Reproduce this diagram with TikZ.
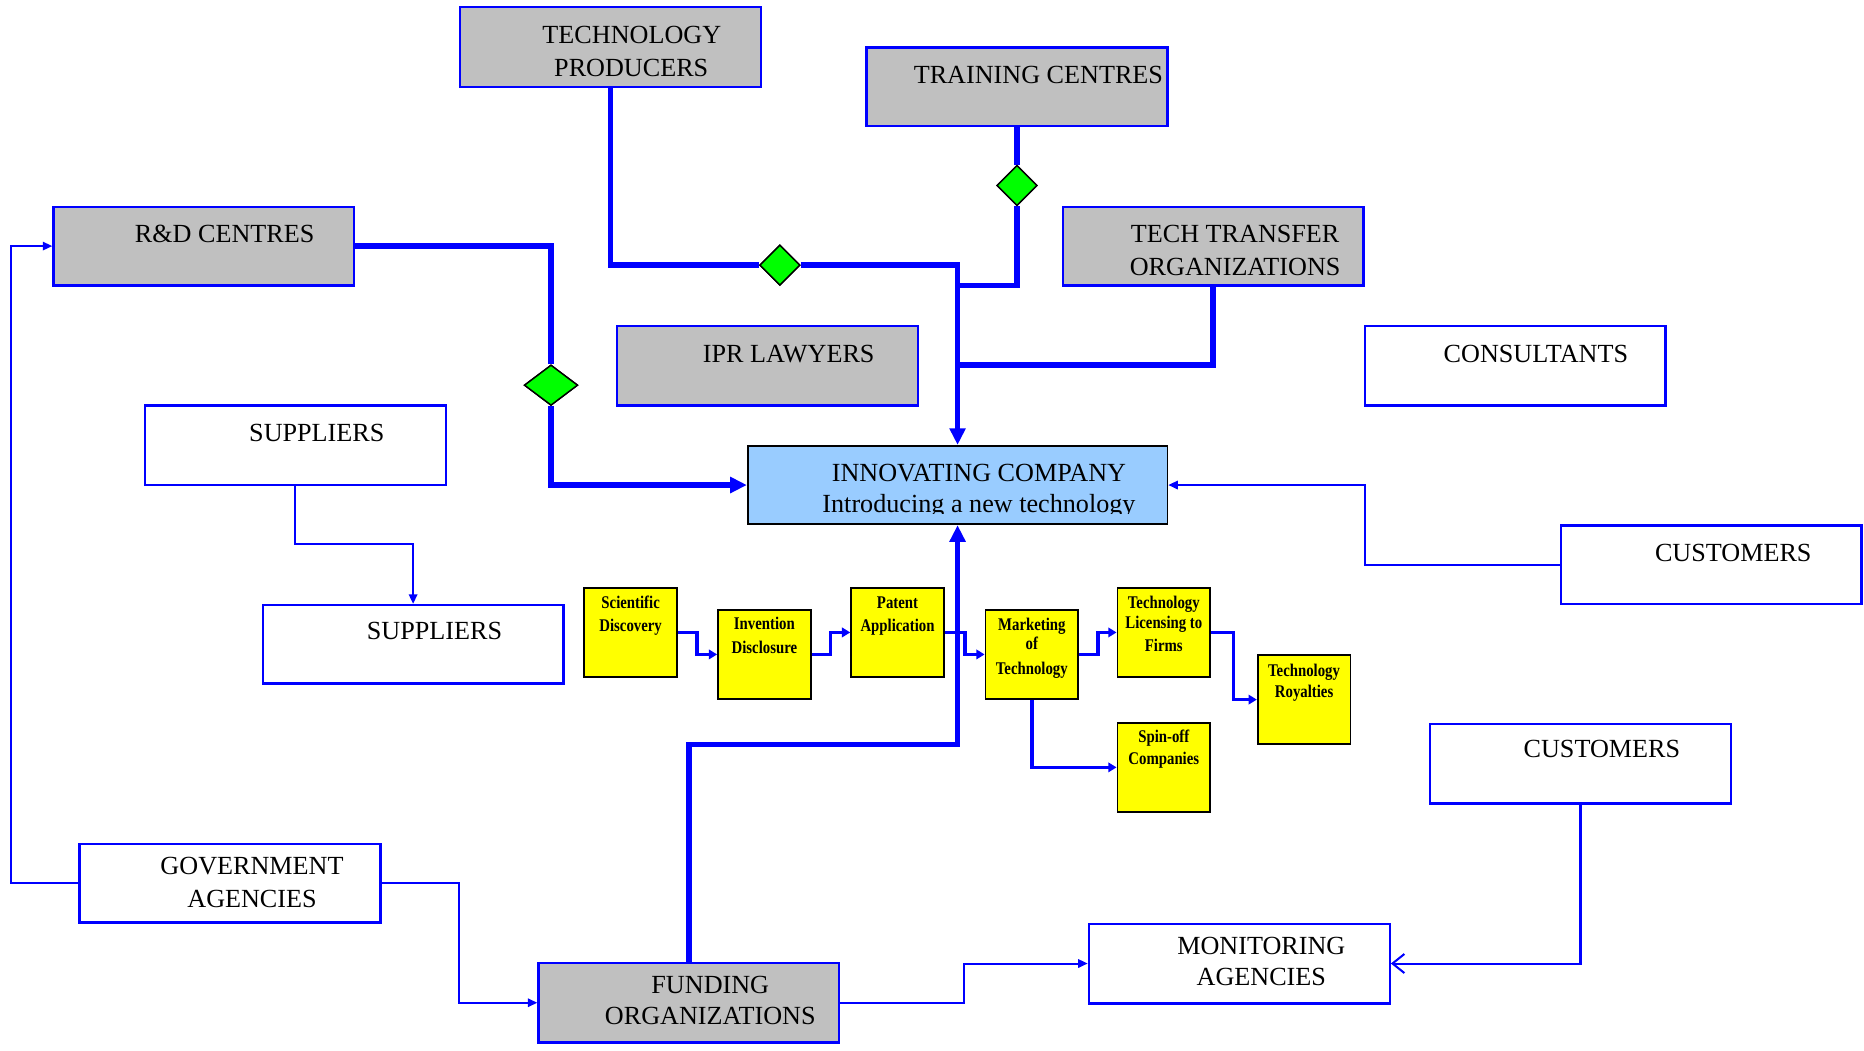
\documentclass[tikz,border=0pt]{standalone}
\usepackage{fontspec}
\setmainfont{Liberation Serif}
\newfontfamily\ylfont{Liberation Serif}[FakeStretch=0.83]
\usetikzlibrary{arrows.meta,shapes.geometric}

\definecolor{myblue}{RGB}{0,0,255}
\definecolor{mygray}{RGB}{192,192,192}
\definecolor{myltblue}{RGB}{153,204,255}
\definecolor{myyellow}{RGB}{255,255,0}
\definecolor{mygreen}{RGB}{0,255,0}

\tikzset{
  basebox/.style={draw=myblue, line width=2pt, inner sep=0pt,
    minimum width=253pt, minimum height=67pt},
  graybox/.style={basebox, fill=mygray},
  whitebox/.style={basebox, fill=white},
  lbl/.style={font=\fontsize{22}{27}\selectfont, anchor=base, inner sep=0pt},
  ybox/.style={draw=black, line width=1.5pt, fill=myyellow, inner sep=0pt,
    minimum width=78pt, minimum height=75pt},
  ylbl/.style={font=\ylfont\bfseries\fontsize{15}{20}\selectfont, anchor=base, inner sep=0pt},
  gem/.style={diamond, draw=black, line width=1.2pt, fill=mygreen, inner sep=0pt,
    minimum width=34pt, minimum height=34pt},
  heavy/.style={draw=myblue, line width=4.5pt},
  heavytip/.style={heavy, -{Triangle[length=14pt,width=13pt]}},
  light/.style={draw=myblue, line width=1.7pt},
  lighttip/.style={light, -{Triangle[length=8pt,width=7pt]}},
  barbtip/.style={light, -{Straight Barb[length=10pt,width=16pt]}},
  chain/.style={draw=myblue, line width=3pt, -{Triangle[length=7pt,width=8pt]}},
}

\begin{document}
\begin{tikzpicture}[x=1pt,y=-1pt]
\useasboundingbox (0,0) rectangle (1568,884);

% ---- organisation boxes ----
\node[graybox]  (tp)  at (513.5,39.5) {};
\node[graybox, minimum height=66pt] (tc) at (855.5,73) {};
\node[graybox, minimum height=66pt] (rd) at (171.5,207) {};
\node[graybox, minimum height=66pt] (tt) at (1020.5,207) {};
\node[graybox]  (ipr) at (645.5,307.5) {};
\node[whitebox] (con) at (1274.5,307.5) {};
\node[whitebox] (s1)  at (248.5,374.5) {};
\node[draw=black, line width=1.5pt, fill=myltblue, inner sep=0pt,
      minimum width=353pt, minimum height=66pt] (ic) at (805.5,408) {};
\node[whitebox, minimum height=66pt] (c1) at (1439.5,475) {};
\node[whitebox, minimum height=66pt] (s2) at (347.5,542) {};
\node[whitebox] (c2)  at (1329.5,642.5) {};
\node[whitebox, minimum height=66pt] (ga) at (193.5,743) {};
\node[whitebox] (ma)  at (1042.5,810.5) {};
\node[graybox]  (fo)  at (579.5,843.5) {};

% ---- process chain ----
\node[ybox] (sd)   at (530.5,532) {};
\node[ybox] (id)   at (643,550.5) {};
\node[ybox] (pa)   at (755,532) {};
\node[ybox] (mk)   at (868,550.5) {};
\node[ybox] (lic)  at (979,532) {};
\node[ybox] (roy)  at (1097,588.5) {};
\node[ybox] (spin) at (979,645.5) {};

% ---- junction markers ----
\node[gem] (d1) at (656,223) {};
\node[gem] (d2) at (855.5,156) {};
\node[gem, minimum width=45pt] (d3) at (463.5,324) {};

% ---- bend points ----
\coordinate (jA) at (805.5,240);
\coordinate (jB) at (805.5,307);
\coordinate (jC) at (805.5,626);
\coordinate (jD) at (347.5,458);
\coordinate (jE) at (1148,475);
\coordinate (jF) at (9,743);
\coordinate (jG) at (386,743);
\coordinate (jH) at (811,843.5);

% ---- chain connectors ----
\draw[chain] (sd.east) -- ++(16,0) |- (id.west);
\draw[chain] (id.east) -- ++(16,0) |- (pa.west);
\draw[chain] (pa.east) -- ++(17,0) |- (mk.west);
\draw[chain] (mk.east) -- ++(16,0) |- (lic.west);
\draw[chain] (lic.east) -- ++(19,0) |- (roy.west);
\draw[chain] (mk.south) |- (spin.west);

% ---- main flows into the company ----
\draw[heavy] (tp.south) |- (d1.west);
\draw[heavytip] (d1.east) -| (ic.north);
\draw[heavy] (tc.south) -- (d2.north);
\draw[heavy] (d2.south) |- (jA);
\draw[heavy] (tt.south) |- (jB);
\draw[heavy] (rd.east) -| (d3.north);
\draw[heavytip] (d3.south) |- (ic.west);
\draw[heavytip] (fo.north) |- (jC) -- (ic.south);

% ---- secondary links ----
\draw[lighttip] (s1.south) |- (jD) -- (s2.north);
\draw[lighttip] (c1.west) -- (jE) |- (ic.east);
\draw[lighttip] (ga.west) -- (jF) |- (rd.west);
\draw[lighttip] (ga.east) -- (jG) |- (fo.west);
\draw[lighttip] (fo.east) -- (jH) |- (ma.west);
\draw[barbtip] (c2.south) |- (ma.east);

% ---- redraw markers on top ----
\node[gem] (d1b) at (d1) {};
\node[gem] (d2b) at (d2) {};
\node[gem, minimum width=45pt] (d3b) at (d3) {};

% ---- labels ----
\node[lbl] (tp-a) at (531.5,36.5) {TECHNOLOGY};
\node[lbl] (tp-b) at (531,64) {PRODUCERS};
\node[lbl] (tc-a) at (873.5,70) {TRAINING CENTRES};
\node[lbl] (rd-a) at (189,204) {R\&D CENTRES};
\node[lbl] (tt-a) at (1039,204) {TECH TRANSFER};
\node[lbl] (tt-b) at (1039,232) {ORGANIZATIONS};
\node[lbl] (ipr-a) at (663.5,305) {IPR LAWYERS};
\node[lbl] (con-a) at (1292,305) {CONSULTANTS};
\node[lbl] (s1-a) at (266.5,371.5) {SUPPLIERS};
\begin{scope}
  \clip (629,375) rectangle (982,432);
  \node[lbl] (ic-a) at (823.5,405) {INNOVATING COMPANY};
  \node[lbl] (ic-b) at (823.5,431) {Introducing a new technology};
\end{scope}
\node[lbl] (c1-a) at (1458,472) {CUSTOMERS};
\node[lbl] (s2-a) at (365.5,538) {SUPPLIERS};
\node[lbl] (c2-a) at (1347.5,637) {CUSTOMERS};
\node[lbl] (ga-a) at (212,736) {GOVERNMENT};
\node[lbl] (ga-b) at (212,763) {AGENCIES};
\node[lbl] (ma-a) at (1061,802.5) {MONITORING};
\node[lbl] (ma-b) at (1061,829) {AGENCIES};
\node[lbl] (fo-a) at (597.5,836) {FUNDING};
\node[lbl] (fo-b) at (597.5,862) {ORGANIZATIONS};

\node[ylbl] (sd-a) at (530.5,511.7) {Scientific};
\node[ylbl] (sd-b) at (530.5,531.4) {Discovery};
\node[ylbl] (id-a) at (643,529.4) {Invention};
\node[ylbl] (id-b) at (643,549.6) {Disclosure};
\node[ylbl] (pa-a) at (755,511.7) {Patent};
\node[ylbl] (pa-b) at (755,531.4) {Application};
\node[ylbl] (mk-a) at (868,530) {Marketing};
\node[ylbl] (mk-b) at (868,546) {of};
\node[ylbl] (mk-c) at (868,567.8) {Technology};
\node[ylbl] (lic-a) at (979,511.7) {Technology};
\node[ylbl] (lic-b) at (979,528.6) {Licensing to};
\node[ylbl] (lic-c) at (979,548) {Firms};
\node[ylbl] (roy-a) at (1097,569) {Technology};
\node[ylbl] (roy-b) at (1097,587) {Royalties};
\node[ylbl] (spin-a) at (979,625) {Spin-off};
\node[ylbl] (spin-b) at (979,643.5) {Companies};
\end{tikzpicture}
\end{document}
